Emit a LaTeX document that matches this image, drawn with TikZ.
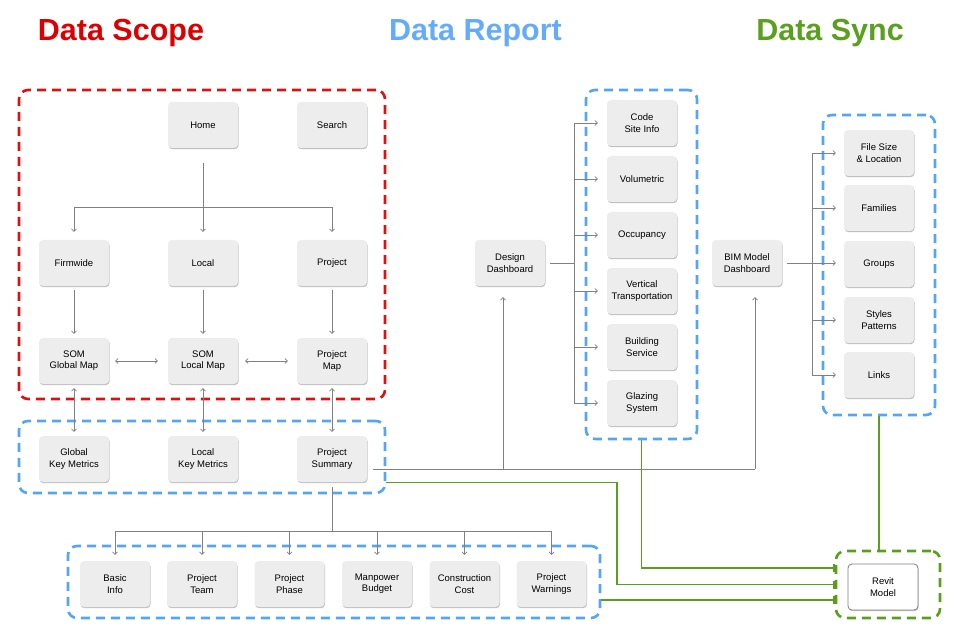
\documentclass[tikz,border=0pt]{standalone}
\usepackage{fontspec}
\setmainfont{Liberation Sans}
\usetikzlibrary{arrows.meta,shadows}
\definecolor{cred}{RGB}{221,17,17}
\definecolor{cblue}{RGB}{85,165,245}
\definecolor{cgreen}{RGB}{90,158,30}
\definecolor{tred}{RGB}{221,0,0}
\definecolor{tblue}{RGB}{100,172,250}
\definecolor{tgreen}{RGB}{90,160,30}
\definecolor{boxfill}{RGB}{237,237,237}
\definecolor{conn}{RGB}{128,128,128}
\begin{document}
\begin{tikzpicture}[x=1pt,y=-1pt,
  box/.style={rectangle, rounded corners=4pt, fill=boxfill, minimum width=70pt, minimum height=46pt,
    inner sep=1pt, align=center, font=\fontsize{9.5}{11.3}\selectfont,
    drop shadow={shadow xshift=0.5pt, shadow yshift=-1.2pt, fill=black!25, opacity=1}},
  wbox/.style={box, fill=white, draw=conn, line width=0.8pt},
  cont/.style={rectangle, dash pattern=on 9pt off 6pt, line width=2.6pt, rounded corners=9pt, inner sep=0pt},
  ln/.style={draw=conn, line width=0.7pt},
  ar/.style={ln, -{Straight Barb[length=2.5pt,width=5pt]}},
  dar/.style={ln, {Straight Barb[length=2.5pt,width=5pt]}-{Straight Barb[length=2.5pt,width=5pt]}},
  gl/.style={draw=cgreen, line width=1.3pt},
  glt/.style={gl, -{Bar[width=8pt,line width=1.6pt]}},
  title/.style={font=\fontsize{30.5}{36}\selectfont\bfseries, anchor=base}
]
\useasboundingbox (0,0) rectangle (960,644);

% titles
\node[title, text=tred] (t1) at (121,41) {Data Scope};
\node[title, text=tblue] (t2) at (475.5,41) {Data Report};
\node[title, text=tgreen] (t3) at (830,41) {Data Sync};

% containers
\node[cont, draw=cred, minimum width=366pt, minimum height=309pt] (scope) at (202,244.5) {};
\node[cont, draw=cblue, minimum width=366pt, minimum height=72pt] (kmgrp) at (202,457) {};
\node[cont, draw=cblue, minimum width=111pt, minimum height=349pt] (drgrp) at (641.5,264.5) {};
\node[cont, draw=cblue, minimum width=112pt, minimum height=300pt] (dsgrp) at (879,265) {};
\node[cont, draw=cblue, minimum width=532pt, minimum height=72pt] (botgrp) at (334,582) {};
\node[cont, draw=cgreen, minimum width=104pt, minimum height=67pt] (revgrp) at (888,584.5) {};

% data scope nodes
\node[box] (home) at (203,125) {Home};
\node[box] (search) at (332,125) {Search};
\node[box] (firm) at (74,263) {Firmwide};
\node[box] (local) at (203,263) {Local};
\node[box] (proj) at (332,263) {Project};
\node[box] (somg) at (74,361) {SOM\\Global Map};
\node[box] (soml) at (203,361) {SOM\\Local Map};
\node[box] (pmap) at (332,361) {Project\\Map};
\node[box] (gkm) at (74,459) {Global\\Key Metrics};
\node[box] (lkm) at (203,459) {Local\\Key Metrics};
\node[box] (psum) at (332,459) {Project\\Summary};

% data report nodes
\node[box] (dd) at (510,263) {Design\\Dashboard};
\node[box] (r1) at (642,123) {Code\\Site Info};
\node[box] (r2) at (642,179) {Volumetric};
\node[box] (r3) at (642,235) {Occupancy};
\node[box] (r4) at (642,291) {Vertical\\Transportation};
\node[box] (r5) at (642,347) {Building\\Service};
\node[box] (r6) at (642,403) {Glazing\\System};

% data sync nodes
\node[box] (bim) at (747,263) {BIM Model\\Dashboard};
\node[box] (s1) at (879,153) {File Size\\\& Location};
\node[box] (s2) at (879,208) {Families};
\node[box] (s3) at (879,264) {Groups};
\node[box] (s4) at (879,320) {Styles\\Patterns};
\node[box] (s5) at (879,375) {Links};

% bottom nodes
\node[box] (b1) at (115,584) {Basic\\Info};
\node[box] (b2) at (202,584) {Project\\Team};
\node[box] (b3) at (289.5,584) {Project\\Phase};
\node[box] (b4) at (377,584) {Manpower\\Budget};
\node[box] (b5) at (464.5,584) {Construction\\Cost};
\node[box] (b6) at (551.5,584) {Project\\Warnings};

\node[wbox] (revit) at (883,587) {Revit\\Model};

% helper coordinates
\coordinate (hy) at (0,207);
\coordinate (gy) at (0,469);
\coordinate (by) at (0,531);
\coordinate (drx) at (574,0);
\coordinate (dsx) at (812,0);
\coordinate (g2x) at (617,0);

% data scope connectors
\draw[ar] ([yshift=-15pt]home.south) -- ([yshift=8pt]local.north);
\draw[ln] (firm.north |- hy) -- (proj.north |- hy);
\draw[ar] (firm.north |- hy) -- ([yshift=8pt]firm.north);
\draw[ar] (proj.north |- hy) -- ([yshift=8pt]proj.north);
\draw[ar] ([yshift=-4pt]firm.south) -- ([yshift=4pt]somg.north);
\draw[ar] ([yshift=-4pt]local.south) -- ([yshift=4pt]soml.north);
\draw[ar] ([yshift=-4pt]proj.south) -- ([yshift=4pt]pmap.north);
\draw[dar] ([xshift=6pt]somg.east) -- ([xshift=-10pt]soml.west);
\draw[dar] ([xshift=7pt]soml.east) -- ([xshift=-9pt]pmap.west);
\draw[dar] ([yshift=-4pt]somg.south) -- ([yshift=4pt]gkm.north);
\draw[dar] ([yshift=-4pt]soml.south) -- ([yshift=4pt]lkm.north);
\draw[dar] ([yshift=-4pt]pmap.south) -- ([yshift=4pt]psum.north);

% project summary to dashboards
\draw[ln] ([xshift=6pt]psum.east |- gy) -- ([xshift=8pt]bim.south |- gy);
\draw[ar] ([xshift=-7pt]dd.south |- gy) -- ([xshift=-7pt,yshift=-11pt]dd.south);
\draw[ar] ([xshift=8pt]bim.south |- gy) -- ([xshift=8pt,yshift=-11pt]bim.south);

% design dashboard branches
\draw[ln] ([xshift=5pt]dd.east) -- (drx |- dd.east);
\draw[ln] (drx |- r1) -- (drx |- r6);
\foreach \n in {r1,r2,r3,r4,r5,r6}
  \draw[ar] (drx |- \n) -- ([xshift=-9pt]\n.west);

% bim dashboard branches
\draw[ar] ([xshift=5pt]bim.east) -- ([xshift=-8pt]s3.west |- bim.east);
\draw[ln] (dsx |- s1) -- (dsx |- s5);
\foreach \n in {s1,s2,s4,s5}
  \draw[ar] (dsx |- \n) -- ([xshift=-8pt]\n.west);

% bottom branches
\draw[ln] ([yshift=-5pt]psum.south) -- (psum.south |- by);
\draw[ln] (b1.north |- by) -- (b6.north |- by);
\foreach \n in {b1,b2,b3,b4,b5,b6}
  \draw[ar] (\n.north |- by) -- ([yshift=6pt]\n.north);

% green sync lines
\draw[glt] (drgrp.south) |- ([yshift=16.5pt]revgrp.west);
\draw[glt] (kmgrp.east |- psum.south) -| (g2x |- revgrp.west) -- (revgrp.west);
\draw[glt] ([yshift=-18pt]botgrp.east) -- ([yshift=-15.5pt]revgrp.west);
\draw[gl] (dsgrp.south) -- (revgrp.north -| dsgrp.south);
\end{tikzpicture}
\end{document}
